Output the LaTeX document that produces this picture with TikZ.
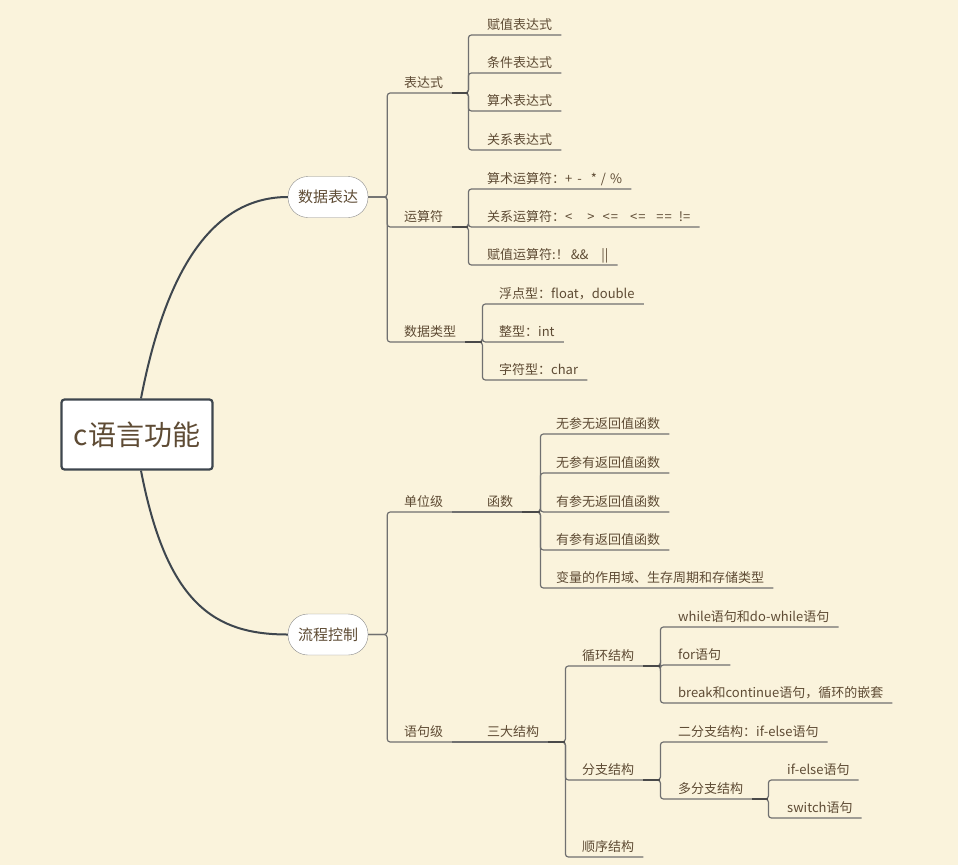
\documentclass[tikz,border=0pt]{standalone}
\usepackage{fontspec}
\setmainfont{Noto Sans CJK SC}
\usepackage{tikz}
\usetikzlibrary{positioning,calc}
\definecolor{paper}{RGB}{250,243,220}
\definecolor{ink}{RGB}{94,75,52}
\definecolor{edge}{RGB}{112,112,112}
\definecolor{rootline}{RGB}{62,70,78}
\definecolor{pillline}{RGB}{140,140,140}

\begin{document}
\begin{tikzpicture}[x=1pt, y=-1pt,
    topic/.style={anchor=south west, inner xsep=9pt, inner ysep=3pt, text height=11pt, text depth=2pt,
      font=\fontsize{13}{15}\selectfont, text=ink},
    pill/.style={draw=pillline, fill=white, rounded corners=20pt, minimum width=80pt, minimum height=41pt,
      font=\fontsize{15}{18}\selectfont, text=ink},
    rootbox/.style={draw=rootline, line width=2.2pt, fill=white, rounded corners=3pt, minimum width=151pt,
      minimum height=70pt, font=\fontsize{28}{32}\selectfont, text=ink},
    conn/.style={draw=edge, line width=1.2pt, rounded corners=3pt},
    stub/.style={draw=edge!65!black, line width=2pt},
    curve/.style={draw=rootline, line width=2pt}
  ]
  \fill[paper] (0,0) rectangle (958,865);
  \useasboundingbox (0,0) rectangle (958,865);

  % main topics
  \node[rootbox] (root) at (137,434.5) {c语言功能};
  \node[pill] (sjbd) at (328,197) {数据表达};
  \node[pill] (lckz) at (328,634.5) {流程控制};

  % 数据表达
  \node[topic] (bds) at (395,93) {表达式};
  \node[topic] (ysf) at (395,227) {运算符};
  \node[topic] (sjlx) at (395,342) {数据类型};

  \node[topic] (fz) at (478,35) {赋值表达式};
  \node[topic] (tj) at (478,73) {条件表达式};
  \node[topic] (ss) at (478,111) {算术表达式};
  \node[topic] (gx) at (478,150) {关系表达式};

  \node[topic] (ssf) at (478,189) {算术运算符：+\hspace{5pt}-\hspace{9pt}*\hspace{4pt}/\hspace{4pt}\%};
  \node[topic] (gxf) at (478,227) {关系运算符：<\hspace{15pt}>\hspace{8pt}<\hspace{1pt}=\hspace{12pt}<\hspace{1pt}=\hspace{11pt}=\hspace{1pt}=\hspace{7pt}!=};
  \node[topic] (fzf) at (478,265) {赋值运算符:！\hspace{2pt}\&\&\hspace{13pt}||};

  \node[topic] (fd) at (490,304) {浮点型：float，double};
  \node[topic] (zx) at (490,342) {整型：int};
  \node[topic] (zf) at (490,380) {字符型：char};

  % 流程控制
  \node[topic] (dwj) at (395,512) {单位级};
  \node[topic] (yjj) at (395,742) {语句级};
  \node[topic] (hs) at (478,512) {函数};
  \node[topic] (sdjg) at (478,742) {三大结构};

  \node[topic] (hs1) at (547,434) {无参无返回值函数};
  \node[topic] (hs2) at (547,473) {无参有返回值函数};
  \node[topic] (hs3) at (547,512) {有参无返回值函数};
  \node[topic] (hs4) at (547,550) {有参有返回值函数};
  \node[topic] (hs5) at (547,588) {变量的作用域、生存周期和存储类型};

  \node[topic] (xh) at (573,666) {循环结构};
  \node[topic] (fzjg) at (573,780) {分支结构};
  \node[topic] (sx) at (573,857) {顺序结构};

  \node[topic] (wh) at (669,627) {while语句和do-while语句};
  \node[topic] (fr) at (669,665) {for语句};
  \node[topic] (bk) at (669,703) {break和continue语句，循环的嵌套};

  \node[topic] (efz) at (669,742) {二分支结构：if-else语句};
  \node[topic] (dfz) at (669,799) {多分支结构};
  \node[topic] (ife) at (778,780) {if-else语句};
  \node[topic] (sw) at (778,818) {switch语句};

  % curves from the root
  \draw[curve] ([xshift=4pt]root.north) .. controls +(26,-135) and +(-72,0) .. (sjbd.west);
  \draw[curve] ([xshift=4pt]root.south) .. controls +(26,135) and +(-72,0) .. (lckz.west);

  % connectors
  \foreach \c in {bds,ysf,sjlx}
    \draw[conn] (sjbd.east) -- ++(19,0) |- (\c.south east);
  \foreach \c in {dwj,yjj}
    \draw[conn] (lckz.east) -- ++(19,0) |- (\c.south east);
  \foreach \c in {fz,tj,ss,gx}
    \draw[conn] (bds.south east) -- ++(16,0) |- (\c.south east);
  \foreach \c in {ssf,gxf,fzf}
    \draw[conn] (ysf.south east) -- ++(16,0) |- (\c.south east);
  \foreach \c in {fd,zx,zf}
    \draw[conn] (sjlx.south east) -- ++(17,0) |- (\c.south east);
  \draw[conn] (dwj.south east) -- (hs.south east);
  \draw[conn] (yjj.south east) -- (sdjg.south east);
  \foreach \c in {hs1,hs2,hs3,hs4,hs5}
    \draw[conn] (hs.south east) -- ++(18,0) |- (\c.south east);
  \foreach \c in {xh,fzjg,sx}
    \draw[conn] (sdjg.south east) -- ++(17,0) |- (\c.south east);
  \foreach \c in {wh,fr,bk}
    \draw[conn] (xh.south east) -- ++(17,0) |- (\c.south east);
  \foreach \c in {efz,dfz}
    \draw[conn] (fzjg.south east) -- ++(17,0) |- (\c.south east);
  \foreach \c in {ife,sw}
    \draw[conn] (dfz.south east) -- ++(16,0) |- (\c.south east);

  % darker stubs
  \draw[stub] (bds.south east) -- ++(16,0);
  \draw[stub] (ysf.south east) -- ++(16,0);
  \draw[stub] (sjlx.south east) -- ++(17,0);
  \draw[stub] (hs.south east) -- ++(18,0);
  \draw[stub] (sdjg.south east) -- ++(17,0);
  \draw[stub] (xh.south east) -- ++(17,0);
  \draw[stub] (fzjg.south east) -- ++(17,0);
  \draw[stub] (dfz.south east) -- ++(16,0);
\end{tikzpicture}
\end{document}
